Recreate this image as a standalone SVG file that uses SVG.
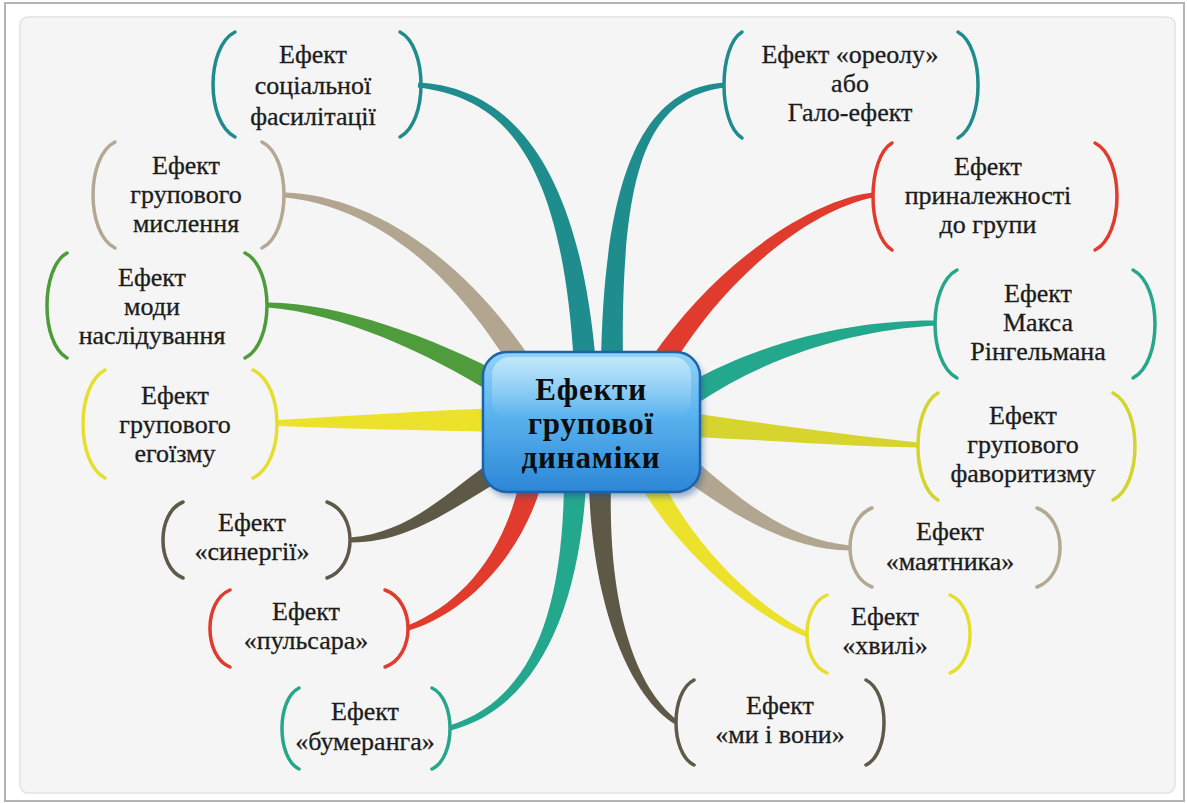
<svg xmlns="http://www.w3.org/2000/svg" width="1187" height="803" viewBox="0 0 1187 803">
  <style>
    .lbl { font-family: "Liberation Serif", "Times New Roman", serif; font-size: 26px; fill: #1c1c1c; stroke: #1c1c1c; stroke-width: 0.3; text-anchor: middle; }
    .hub { font-family: "Liberation Serif", "Times New Roman", serif; font-size: 31px; font-weight: bold; fill: #0d0d0d; text-anchor: middle; letter-spacing: 0.8px; }
    .br { fill: none; stroke-width: 3.5; stroke-linecap: round; }
    .teal { stroke: #1f8b8c; } .tealF { fill: #1f8c8e; }
    .sea { stroke: #27a68b; } .seaF { fill: #24a88d; }
    .sand { stroke: #b3a993; } .sandF { fill: #b2a690; }
    .green { stroke: #4d9c3a; } .greenF { fill: #4e9c3b; }
    .yel { stroke: #e6de2c; } .yelF { fill: #ece22b; }
    .lime { stroke: #d3d42e; } .limeF { fill: #d7d52d; }
    .olive { stroke: #5e5948; } .oliveF { fill: #5e5947; }
    .red { stroke: #e03b2c; } .redF { fill: #e03b2c; }
  </style>
  <defs>
    <linearGradient id="hubFill" x1="0" y1="0" x2="0" y2="1">
      <stop offset="0" stop-color="#92d4f8"/>
      <stop offset="0.45" stop-color="#5ab3ee"/>
      <stop offset="1" stop-color="#2c86d6"/>
    </linearGradient>
    <linearGradient id="hubGloss" x1="0" y1="0" x2="0" y2="1">
      <stop offset="0" stop-color="#ffffff" stop-opacity="0.45"/>
      <stop offset="1" stop-color="#ffffff" stop-opacity="0"/>
    </linearGradient>
    <filter id="soft" x="-10%" y="-10%" width="130%" height="130%">
      <feGaussianBlur stdDeviation="3"/>
    </filter>
  </defs>

  <!-- page and framed panel -->
  <rect x="0" y="0" width="1187" height="803" fill="#ffffff"/>
  <rect x="5" y="3" width="1179" height="798" fill="#ffffff" stroke="#b4b4b4" stroke-width="2"/>
  <rect x="20" y="17" width="1155" height="776" rx="8" fill="#f5f5f5" stroke="#e2e2e2" stroke-width="1.5"/>

  <!-- tapered branches from the hub to each effect -->
  <g id="connectors">
    <path class="tealF" d="M417.8,87.5 C499.6,97 562,150.6 574,365.8 L596,364.2 C578,149.4 500.4,87 418.2,82.5 Z"/>
    <path class="tealF" d="M724.8,82.5 C649.5,87 604,160 601,365 L623,365 C620,160 650.5,97 725.2,87.5 Z"/>
    <path class="sandF" d="M284.8,197.5 C359.7,205 443.2,254.2 515.7,375.8 L534.3,364.2 C456.8,245.8 360.3,195 285.2,192.5 Z"/>
    <path class="greenF" d="M267.9,307.5 C339.8,313 426,351.9 494.5,394.5 L505.5,375.5 C434,338.1 340.2,303 268.1,302.5 Z"/>
    <path class="yelF" d="M278,426 C350,429 420,430 500,432 L500,408 C420,411 350,416 278,420 Z"/>
    <path class="oliveF" d="M350.1,542.5 C410.2,543 454.3,506.8 510.9,474.3 L499.1,455.7 C445.7,493.2 409.8,533 349.9,537.5 Z"/>
    <path class="redF" d="M408.8,630.4 C461.6,614.7 517.7,562.1 540.6,487.8 L519.4,482.2 C502.3,557.9 458.4,605.3 407.2,625.6 Z"/>
    <path class="seaF" d="M450.7,730.4 C531.4,709.8 578,620.3 586,485.4 L564,484.6 C562,619.7 528.6,700.2 449.3,725.6 Z"/>
    <path class="oliveF" d="M677.4,720 C632.9,685.9 608,600 611,485 L589,485 C592,600 627.1,694.1 674.6,724 Z"/>
    <path class="yelF" d="M809,632.7 C752,605.4 687.2,536.4 659.8,475.1 L640.2,484.9 C672.8,543.6 748,614.6 807,637.3 Z"/>
    <path class="sandF" d="M850.1,545.5 C790.3,540 745,503.8 696.9,461.4 L683.1,478.6 C735,516.2 789.7,550 849.9,550.5 Z"/>
    <path class="limeF" d="M918,442.5 C840,434 770,424 690,413 L690,437 C770,440 840,446 918,447.5 Z"/>
    <path class="seaF" d="M934.9,320.5 C859.9,320 765.8,338.2 684.2,385.7 L695.8,404.3 C774.2,351.8 860.1,330 935.1,325.5 Z"/>
    <path class="redF" d="M872.6,192.5 C809.2,200.1 713.2,265.7 650.7,359.1 L669.3,370.9 C726.8,274.3 810.8,209.9 873.4,197.5 Z"/>
  </g>

  <!-- central topic -->
  <g id="hub">
    <rect x="486" y="357" width="217" height="140" rx="24" fill="#1a4f8a" opacity="0.45" filter="url(#soft)"/>
    <rect x="483" y="352" width="217" height="140" rx="24" fill="url(#hubFill)" stroke="#1d63aa" stroke-width="2.5"/>
    <rect x="492" y="357" width="199" height="62" rx="18" fill="url(#hubGloss)"/>
    <text class="hub" x="591" y="400">Ефекти</text>
    <text class="hub" x="591" y="434">групової</text>
    <text class="hub" x="591" y="468">динаміки</text>
  </g>

  <g id="social-facilitation">
    <path class="br teal" d="M235,32 C205.7,46.7 205.7,122.3 235,137"/>
    <path class="br teal" d="M400,32 C428,46.7 428,122.3 400,137"/>
    <text class="lbl" x="313" y="63">Ефект</text>
    <text class="lbl" x="313" y="94">соціальної</text>
    <text class="lbl" x="313" y="125">фасилітації</text>
  </g>

  <g id="halo">
    <path class="br teal" d="M742,32 C718,46.8 718,123.2 742,138"/>
    <path class="br teal" d="M958,32 C984.7,46.8 984.7,123.2 958,138"/>
    <text class="lbl" x="850" y="63">Ефект «ореолу»</text>
    <text class="lbl" x="850" y="92">або</text>
    <text class="lbl" x="850" y="121">Гало-ефект</text>
  </g>

  <g id="groupthink">
    <path class="br sand" d="M115,142 C85.7,156.8 85.7,233.2 115,248"/>
    <path class="br sand" d="M262,142 C291.3,156.8 291.3,233.2 262,248"/>
    <text class="lbl" x="186" y="174">Ефект</text>
    <text class="lbl" x="186" y="203">групового</text>
    <text class="lbl" x="186" y="232">мислення</text>
  </g>

  <g id="fashion">
    <path class="br green" d="M67,253 C40.3,267.7 40.3,343.3 67,358"/>
    <path class="br green" d="M245,253 C274.3,267.7 274.3,343.3 245,358"/>
    <text class="lbl" x="152" y="286">Ефект</text>
    <text class="lbl" x="152" y="315">моди</text>
    <text class="lbl" x="152" y="344">наслідування</text>
  </g>

  <g id="group-egoism">
    <path class="br yel" d="M105,370 C75.7,385.1 75.7,462.9 105,478"/>
    <path class="br yel" d="M253,370 C285,385.1 285,462.9 253,478"/>
    <text class="lbl" x="175" y="404">Ефект</text>
    <text class="lbl" x="175" y="433">групового</text>
    <text class="lbl" x="175" y="462">егоїзму</text>
  </g>

  <g id="synergy">
    <path class="br olive" d="M183,502 C156.3,512.6 156.3,567.4 183,578"/>
    <path class="br olive" d="M327,502 C357.7,512.6 357.7,567.4 327,578"/>
    <text class="lbl" x="252" y="531">Ефект</text>
    <text class="lbl" x="252" y="560">«синергії»</text>
  </g>

  <g id="pulsar">
    <path class="br red" d="M230,590 C203.3,600.8 203.3,656.2 230,667"/>
    <path class="br red" d="M385,590 C415.7,600.8 415.7,656.2 385,667"/>
    <text class="lbl" x="306" y="620">Ефект</text>
    <text class="lbl" x="306" y="649">«пульсара»</text>
  </g>

  <g id="boomerang">
    <path class="br sea" d="M299,688 C276.3,699.3 276.3,757.7 299,769"/>
    <path class="br sea" d="M432,688 C456,699.3 456,757.7 432,769"/>
    <text class="lbl" x="365" y="720">Ефект</text>
    <text class="lbl" x="365" y="750">«бумеранга»</text>
  </g>

  <g id="us-and-them">
    <path class="br olive" d="M694,680 C670,691.9 670,753.1 694,765"/>
    <path class="br olive" d="M866,680 C890,691.9 890,753.1 866,765"/>
    <text class="lbl" x="780" y="714">Ефект</text>
    <text class="lbl" x="780" y="743">«ми і вони»</text>
  </g>

  <g id="wave">
    <path class="br yel" d="M827,595 C800.3,605.9 800.3,662.1 827,673"/>
    <path class="br yel" d="M950,595 C976.7,605.9 976.7,662.1 950,673"/>
    <text class="lbl" x="885" y="625">Ефект</text>
    <text class="lbl" x="885" y="654">«хвилі»</text>
  </g>

  <g id="pendulum">
    <path class="br sand" d="M872,508 C842.7,519.1 842.7,575.9 872,587"/>
    <path class="br sand" d="M1037,508 C1067.7,519.1 1067.7,575.9 1037,587"/>
    <text class="lbl" x="950" y="540">Ефект</text>
    <text class="lbl" x="950" y="570">«маятника»</text>
  </g>

  <g id="favoritism">
    <path class="br lime" d="M938,393 C911.3,408 911.3,485 938,500"/>
    <path class="br lime" d="M1113,393 C1142.3,408 1142.3,485 1113,500"/>
    <text class="lbl" x="1023" y="424">Ефект</text>
    <text class="lbl" x="1023" y="453">групового</text>
    <text class="lbl" x="1023" y="482">фаворитизму</text>
  </g>

  <g id="ringelmann">
    <path class="br sea" d="M957,270 C927.7,285.1 927.7,362.9 957,378"/>
    <path class="br sea" d="M1133,270 C1162.3,285.1 1162.3,362.9 1133,378"/>
    <text class="lbl" x="1038" y="302">Ефект</text>
    <text class="lbl" x="1038" y="331">Макса</text>
    <text class="lbl" x="1038" y="360">Рінгельмана</text>
  </g>

  <g id="belonging">
    <path class="br red" d="M892,143 C866.7,158 866.7,235 892,250"/>
    <path class="br red" d="M1095,143 C1124.3,158 1124.3,235 1095,250"/>
    <text class="lbl" x="988" y="175">Ефект</text>
    <text class="lbl" x="988" y="204">приналежності</text>
    <text class="lbl" x="988" y="233">до групи</text>
  </g>
</svg>
